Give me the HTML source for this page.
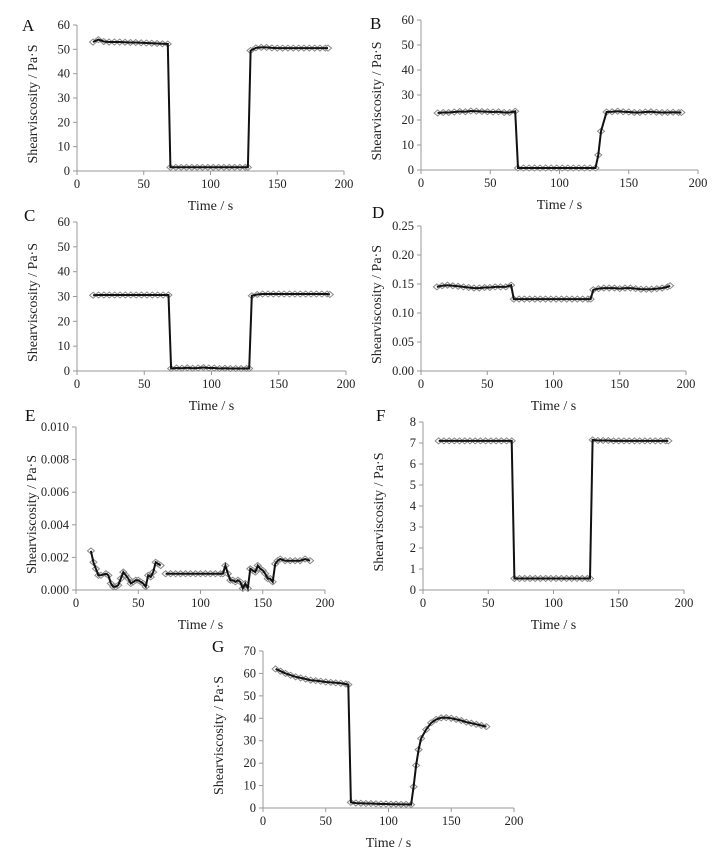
<!DOCTYPE html>
<html><head><meta charset="utf-8">
<style>
html,body{margin:0;padding:0;background:#fff;}
svg{display:block;font-family:"Liberation Serif",serif;}
</style></head>
<body>
<svg id="fig" width="714" height="856" viewBox="0 0 714 856"></svg>
<script>
// ---- data arrays ----
const timeABCDF = [12,16,20,24,28,32,36,40,44,48,52,56,60,64,68,70,74,78,82,86,90,94,98,102,106,110,114,118,122,126,128,130,134,138,142,146,150,154,158,162,166,170,174,178,182,186,188];
const valuesA = [53,54,53.2,53,53,53,52.9,52.8,52.8,52.7,52.6,52.5,52.4,52.3,52.2,1.5,1.5,1.5,1.5,1.5,1.5,1.5,1.5,1.5,1.5,1.5,1.5,1.5,1.5,1.5,1.5,49.5,50.6,50.8,50.8,50.6,50.5,50.5,50.5,50.5,50.5,50.5,50.5,50.5,50.5,50.5,50.5];
const valuesB = [22.8,23,23,23.2,23.4,23.3,23.6,23.5,23.4,23.3,23.2,23.3,23,23,23.5,0.8,0.8,0.8,0.8,0.8,0.8,0.8,0.8,0.8,0.8,0.8,0.8,0.8,0.8,0.8,6,15.5,23.2,23.3,23.5,23.3,23.2,23,23,23.2,23.3,23.1,23,23,23.1,23,23];
const valuesC = [30.5,30.6,30.6,30.6,30.6,30.6,30.6,30.6,30.6,30.6,30.6,30.6,30.6,30.6,30.6,1,1.2,1.1,1.3,1.1,1.2,1.4,1.2,1.2,1,1.1,1,1,1,1,1,30.3,30.8,31,31,31,31,31,31,31,31,31,31,31,31,31,30.8];
const valuesD = [0.145,0.147,0.148,0.147,0.146,0.145,0.144,0.143,0.143,0.144,0.144,0.145,0.145,0.145,0.148,0.124,0.124,0.124,0.124,0.124,0.124,0.124,0.124,0.124,0.124,0.124,0.124,0.124,0.124,0.124,0.124,0.14,0.142,0.143,0.143,0.143,0.142,0.143,0.143,0.142,0.141,0.141,0.141,0.142,0.143,0.145,0.147];
const valuesF = [7.1,7.1,7.1,7.1,7.1,7.1,7.1,7.1,7.1,7.1,7.1,7.1,7.1,7.1,7.1,0.55,0.55,0.55,0.55,0.55,0.55,0.55,0.55,0.55,0.55,0.55,0.55,0.55,0.55,0.55,0.55,7.15,7.12,7.12,7.12,7.1,7.1,7.1,7.1,7.1,7.1,7.1,7.1,7.1,7.1,7.1,7.1];
const timeE = [12,14,16,18,20,24,26,28,30,32,34,36,38,40,42,44,46,48,50,52,54,56,58,60,62,64,66,68,70,72,76,80,84,88,92,96,100,104,108,112,116,118,120,122,124,126,128,130,132,134,136,138,140,142,144,146,148,150,152,154,156,158,160,162,164,168,172,176,180,184,188];
const valuesE = [0.0024,0.0017,0.0013,0.0009,0.0009,0.001,0.0009,0.0004,0.0002,0.0002,0.0003,0.0007,0.0011,0.0009,0.0007,0.0004,0.0005,0.0006,0.0006,0.0005,0.0004,0.0002,0.0009,0.0008,0.0011,0.0017,0.0016,0.0015,null,0.001,0.001,0.001,0.001,0.001,0.001,0.001,0.001,0.001,0.001,0.001,0.001,0.001,0.0015,0.001,0.0006,0.0006,0.0005,0.0006,0.0005,0.0001,0.0004,0.0001,0.0013,0.0012,0.0011,0.0015,0.0013,0.0012,0.001,0.0007,0.0007,0.0005,0.0016,0.0018,0.0019,0.0018,0.0018,0.0018,0.0018,0.0019,0.0018];
const timeG = [10,14,18,22,26,30,34,38,42,46,50,54,58,62,66,68,70,74,78,82,86,90,94,98,102,106,110,114,118,120,122,124,126,130,134,138,142,146,150,154,158,162,166,170,174,178];
const valuesG = [62,61,60,59.2,58.5,58,57.5,57,56.8,56.5,56.2,56,55.8,55.6,55.3,55,2.5,2.2,2.1,2,2,1.9,1.8,1.8,1.7,1.7,1.6,1.6,1.5,9.5,19,26,31,35,38,39.5,40.2,40.3,40,39.5,39,38.3,37.8,37.3,36.8,36.3];
const xTicks = [0,50,100,150,200];
const yTicks60 = [0,10,20,30,40,50,60];
const yTicksD = [0,0.05,0.10,0.15,0.20,0.25];
const yTicksE = [0,0.002,0.004,0.006,0.008,0.010];
const yTicksF = [0,1,2,3,4,5,6,7,8];
const yTicksG = [0,10,20,30,40,50,60,70];

const NS='http://www.w3.org/2000/svg';
const svg=document.getElementById('fig');
function mk(tag,attrs,parent){const e=document.createElementNS(NS,tag);for(const k in attrs)e.setAttribute(k,attrs[k]);(parent||svg).appendChild(e);return e;}

function panel(id,letter,lx,ly,x0,x1,yb,yt,ymax,times,vals,yticks,dec){
  const g=mk('g',{});
  
  
  const sx=t=>x0+(t/200)*(x1-x0);
  const sy=v=>yb-(v/ymax)*(yb-yt);
  const lab=mk('text',{x:lx,y:ly,'font-size':17,fill:'#111'},g);lab.textContent=letter;
  
  
  const ya=mk('line',{x1:x0,y1:yb,x2:x0,y2:yt,stroke:'#999','stroke-width':1},g);
  
  
  const xa=mk('line',{x1:x0,y1:yb,x2:x1,y2:yb,stroke:'#999','stroke-width':1},g);
  
  
  yticks.forEach(v=>{
    const y=sy(v);
    mk('line',{x1:x0-4,y1:y,x2:x0,y2:y,stroke:'#999'},g);
    const t=mk('text',{x:x0-7,y:y+4,'font-size':12.5,'text-anchor':'end',fill:'#222'},g);
    t.textContent=v.toFixed(dec);
    
    
  });
  xTicks.forEach(v=>{
    const x=sx(v);
    mk('line',{x1:x,y1:yb,x2:x,y2:yb+4,stroke:'#999'},g);
    const t=mk('text',{x:x,y:yb+17,'font-size':12.5,'text-anchor':'middle',fill:'#222'},g);
    t.textContent=v;
    
    
  });
  const xt=mk('text',{x:(x0+x1)/2,y:yb+39,'font-size':14,'text-anchor':'middle',fill:'#222'},g);
  xt.textContent='Time / s';
  
  
  const yx=x0-40, yy=(yb+yt)/2+6;
  const ytl=mk('text',{x:yx,y:yy,'font-size':14,'text-anchor':'middle',fill:'#222',transform:'rotate(-90 '+yx+' '+yy+')'},g);
  ytl.textContent='Shearviscosity / Pa·S';
  
  
  times.forEach((t,i)=>{const v=vals[i];if(v===null)return;
    const x=sx(t),y=sy(v);
    const p=mk('path',{d:`M${x-3.5} ${y}L${x} ${y-3}L${x+3.5} ${y}L${x} ${y+3}Z`,fill:'#fff',stroke:'#888','stroke-width':1},g);
    
    
  });
  let d='',pen=false;
  times.forEach((t,i)=>{const v=vals[i];if(v===null){pen=false;return;}d+=(pen?'L':'M')+sx(t).toFixed(1)+' '+sy(v).toFixed(1);pen=true;});
  const ln=mk('path',{d:d,fill:'none',stroke:'#111','stroke-width':2},g);
  
  
}
panel('a','A',22,31,77,344,171,25,60,timeABCDF,valuesA,yTicks60,0);
panel('b','B',370,29,421,698,170,20,60,timeABCDF,valuesB,yTicks60,0);
panel('c','C',24,221,77,346,371,222,60,timeABCDF,valuesC,yTicks60,0);
panel('d','D',372,218,421,686,371,226,0.25,timeABCDF,valuesD,yTicksD,2);
panel('e','E',25,421,76,325,590,427,0.010,timeE,valuesE,yTicksE,3);
panel('f','F',376,421,423,684,590,422,8,timeABCDF,valuesF,yTicksF,0);
panel('g','G',212,652,263,514,808,651,70,timeG,valuesG,yTicksG,0);
</script>
</body></html>
